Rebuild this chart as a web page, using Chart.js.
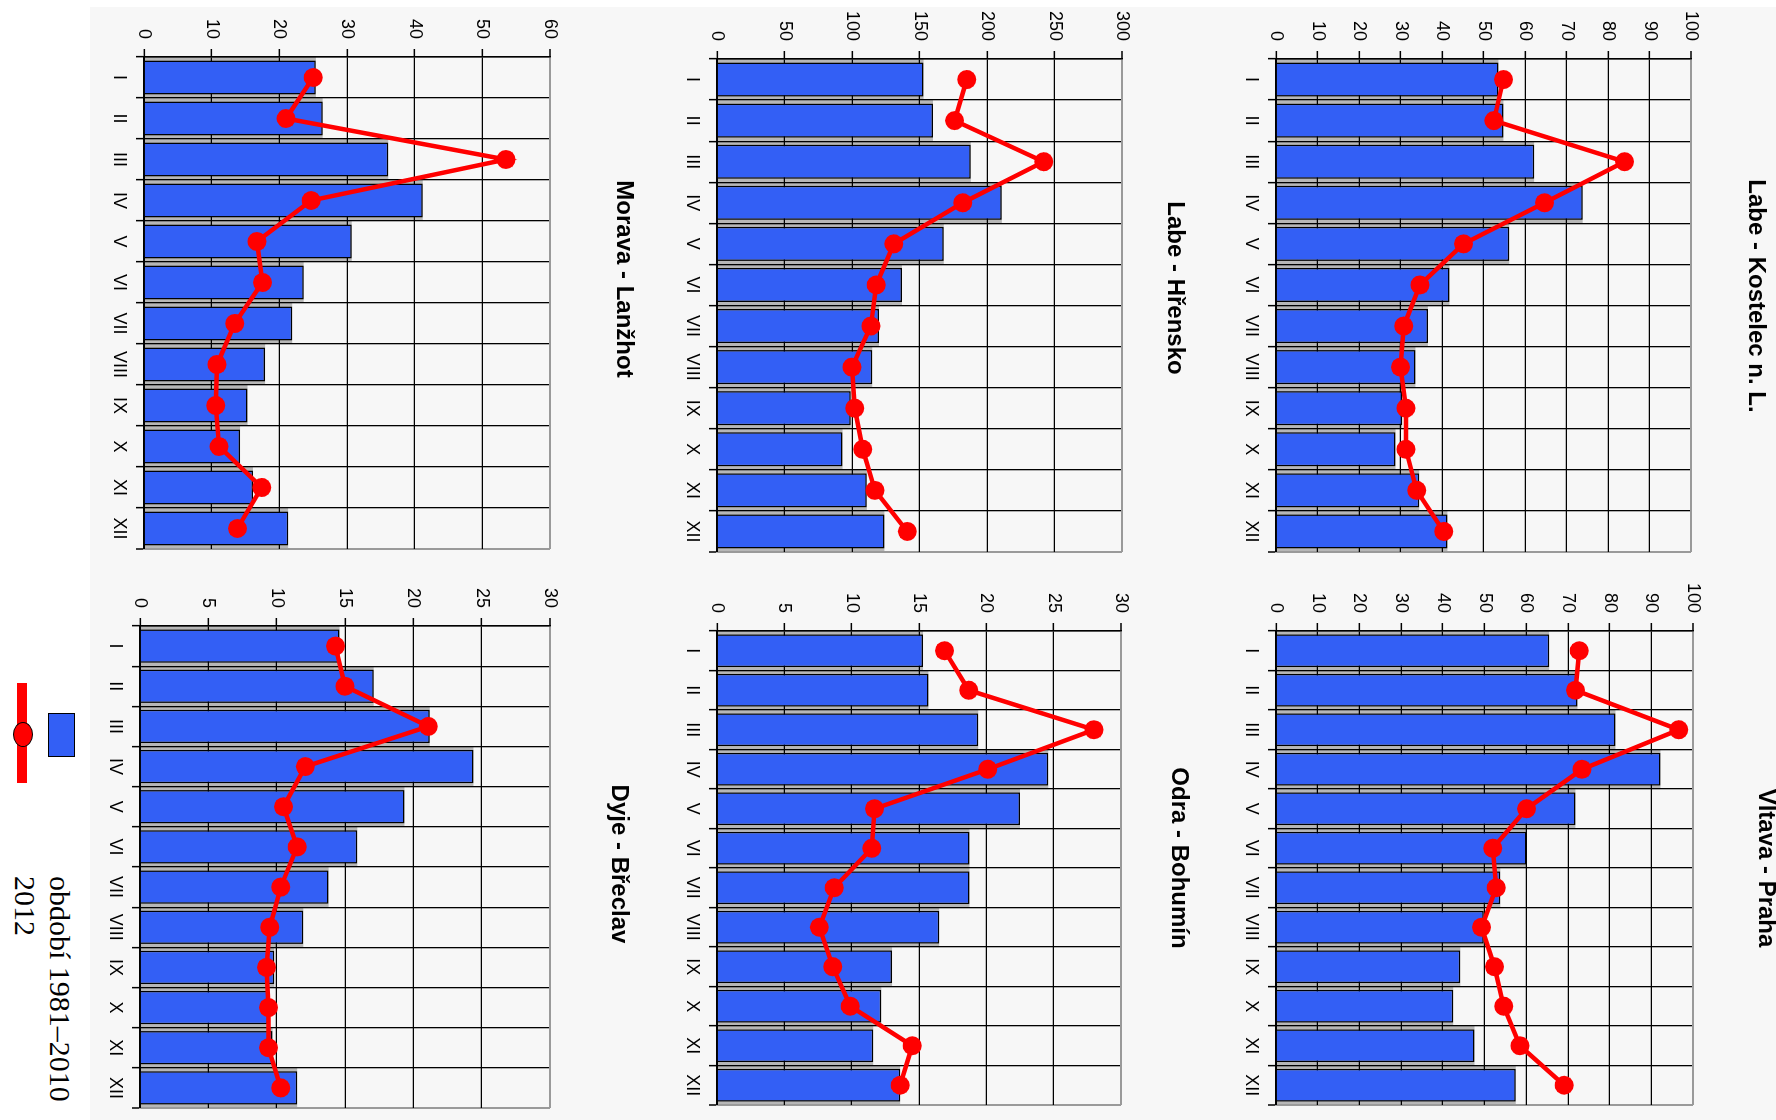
<!DOCTYPE html>
<html>
<head>
<meta charset="utf-8">
<script src="https://cdn.jsdelivr.net/npm/chart.js@4.4.1/dist/chart.umd.min.js"></script>
<style>
  html, body { margin: 0; padding: 0; background: #fff; overflow: hidden; }
  body { width: 1776px; height: 1120px; position: relative; }
  /* the chart is laid out upright and then turned a quarter clockwise */
  #page {
    position: absolute; left: 0; top: 0; width: 1120px; height: 1776px;
    transform-origin: 0 0; transform: translate(1776px, 0) rotate(90deg);
  }
  #paper { position: absolute; left: 7px; top: 0; width: 1113px; height: 1686px; background: #f7f7f7; }
  canvas { position: absolute; }
  .key-bar { position: absolute; left: 713px; top: 1701px; width: 42px; height: 25px; background: #335ff5; border: 1.5px solid #000; }
  .key-line { position: absolute; left: 683px; top: 1749px; width: 100px; height: 10px; background: #ff0000; }
  .key-dot { position: absolute; left: 722px; top: 1743px; width: 23px; height: 18px; border-radius: 50%; background: #ff0000; border: 1.5px solid #000; }
  .key-text { position: absolute; left: 876px; font: 30px "Liberation Serif", "Times New Roman", serif; line-height: 30px; color: #000; white-space: nowrap; }
</style>
</head>
<body>
<div id="page">
  <div id="paper"></div>
  <div class="key-bar"></div>
  <div class="key-line"></div>
  <div class="key-dot"></div>
  <div class="key-text" style="top:1701px">období 1981–2010</div>
  <div class="key-text" style="top:1736px">2012</div>
</div>
<script>
const months = ['I', 'II', 'III', 'IV', 'V', 'VI', 'VII', 'VIII', 'IX', 'X', 'XI', 'XII']

const labeKostelecNormal = [53.6, 54.8, 62.2, 73.9, 56.2, 41.8, 36.6, 33.6, 30.4, 28.8, 34.5, 41.3]
const labeKostelec2012 = [54.8, 52.5, 84.0, 64.7, 45.2, 34.7, 30.8, 30.0, 31.3, 31.3, 33.9, 40.4]

const vltavaPrahaNormal = [65.5, 72.3, 81.4, 92.2, 71.8, 60.1, 53.8, 49.8, 44.2, 42.5, 47.6, 57.5]
const vltavaPraha2012 = [72.7, 71.8, 96.6, 73.4, 60.1, 52.0, 52.8, 49.3, 52.4, 54.6, 58.5, 69.1]

const labeHrenskoNormal = [153, 160, 188, 211, 168, 137, 120, 115, 99, 93, 111, 124]
const labeHrensko2012 = [185, 176, 242, 182, 131, 118, 114, 100, 102, 108, 117, 141]

const odraBohuminNormal = [15.3, 15.7, 19.4, 24.6, 22.5, 18.75, 18.75, 16.5, 13.0, 12.2, 11.6, 13.6]
const odraBohumin2012 = [16.9, 18.7, 28.0, 20.1, 11.7, 11.5, 8.7, 7.6, 8.6, 9.9, 14.5, 13.6]

const moravaLanzhotNormal = [25.4, 26.4, 36.1, 41.2, 30.7, 23.6, 21.9, 17.9, 15.3, 14.2, 16.1, 21.3]
const moravaLanzhot2012 = [25.0, 21.0, 53.5, 24.7, 16.7, 17.5, 13.4, 10.8, 10.6, 11.1, 17.4, 13.8]

const dyjeBreclavNormal = [14.6, 17.1, 21.2, 24.4, 19.35, 15.9, 13.8, 11.95, 9.83, 9.36, 9.7, 11.5]
const dyjeBreclav2012 = [14.3, 15.0, 21.1, 12.1, 10.5, 11.5, 10.3, 9.5, 9.25, 9.4, 9.4, 10.3]

const legendLabels = ['období 1981–2010', '2012']

// plot box [left, top, right, bottom] and title centre, in upright page pixels
const panels = [
  { title: 'Labe - Kostelec n. L.', normal: labeKostelecNormal, recent: labeKostelec2012, max: 100, step: 10, plot: [59, 85, 552, 500], titleX: 296, titleY: 20 },
  { title: 'Vltava - Praha', normal: vltavaPrahaNormal, recent: vltavaPraha2012, max: 100, step: 10, plot: [631, 83, 1105, 500], titleX: 868, titleY: 10 },
  { title: 'Labe - Hřensko', normal: labeHrenskoNormal, recent: labeHrensko2012, max: 300, step: 50, plot: [59, 654, 552, 1059], titleX: 288, titleY: 601 },
  { title: 'Odra - Bohumín', normal: odraBohuminNormal, recent: odraBohumin2012, max: 30, step: 5, plot: [631, 655, 1105, 1059], titleX: 858, titleY: 597 },
  { title: 'Morava - Lanžhot', normal: moravaLanzhotNormal, recent: moravaLanzhot2012, max: 60, step: 10, plot: [57, 1226, 549, 1632], titleX: 279, titleY: 1152 },
  { title: 'Dyje - Břeclav', normal: dyjeBreclavNormal, recent: dyjeBreclav2012, max: 30, step: 5, plot: [626, 1226, 1108, 1636], titleX: 864, titleY: 1157 },
]

const BAR_BLUE = '#335ff5'
const LINE_RED = '#ff0000'
const FRAME_GREY = '#9a9a9a'
const TICK_FONT = { family: '"Liberation Sans", Arial, sans-serif', size: 18 }

// grey halo round each bar, painted before the grid so grid lines stay on top of it
const barHalo = {
  id: 'barHalo',
  beforeDraw(chart) {
    const meta = chart.getDatasetMeta(0)
    const ctx = chart.ctx
    ctx.save()
    ctx.fillStyle = '#b7b7b7'
    meta.data.forEach((bar) => {
      const { x, y, base, width } = bar.getProps(['x', 'y', 'base', 'width'], true)
      ctx.fillRect(x - width / 2 - 3.5, y, width + 7, base - y)
    })
    ctx.restore()
  },
}

// titles in the original are not centred on the plot, nudge each one sideways
const titleNudge = {
  id: 'titleNudge',
  afterLayout(chart, args, opts) {
    const tb = chart.titleBlock
    if (!tb || opts.centerX == null) return
    const shift = opts.centerX - (tb.left + tb.right) / 2
    tb.left += shift
    tb.right += shift
  },
}

const page = document.getElementById('page')

function makePanel(p) {
  const [l, t, r, b] = p.plot
  const yAxisW = 62
  const padL = 70
  const padR = 28
  const axisH = 40
  const titleLine = 24 * 1.2

  const left = l - padL
  const top = Math.round(p.titleY - titleLine / 2)
  const width = padL + (r - l) + padR
  const height = Math.round(b + axisH - top)

  const canvas = document.createElement('canvas')
  canvas.width = width
  canvas.height = height
  canvas.style.left = left + 'px'
  canvas.style.top = top + 'px'
  canvas.style.width = width + 'px'
  canvas.style.height = height + 'px'
  page.appendChild(canvas)

  return new Chart(canvas, {
    data: {
      labels: months,
      datasets: [
        {
          type: 'bar',
          label: legendLabels[0],
          data: p.normal,
          backgroundColor: BAR_BLUE,
          borderColor: '#000',
          borderWidth: 1.5,
          categoryPercentage: 1,
          barPercentage: 0.83,
          order: 2,
        },
        {
          type: 'line',
          label: legendLabels[1],
          data: p.recent,
          borderColor: LINE_RED,
          backgroundColor: LINE_RED,
          borderWidth: 4.5,
          pointRadius: 9.5,
          pointBorderWidth: 0,
          pointBackgroundColor: LINE_RED,
          tension: 0,
          clip: false,
          order: 1,
        },
      ],
    },
    options: {
      responsive: false,
      maintainAspectRatio: false,
      animation: false,
      events: [],
      layout: { padding: { left: padL - yAxisW, right: padR, top: 0, bottom: 0 } },
      plugins: {
        legend: { display: false },
        tooltip: { enabled: false },
        titleNudge: { centerX: p.titleX - left },
        title: {
          display: true,
          text: p.title,
          color: '#000',
          font: { family: '"Liberation Sans", Arial, sans-serif', size: 24, weight: 'bold', lineHeight: 1.2 },
          padding: { top: 0, bottom: t - top - titleLine },
        },
      },
      scales: {
        x: {
          type: 'category',
          offset: true,
          grid: {
            offset: true,
            color: (ctx) => (ctx.tick ? '#000' : FRAME_GREY),
            lineWidth: (ctx) => (ctx.tick ? 1.3 : 2),
            tickLength: 8,
            tickColor: '#000',
            tickWidth: 1.5,
          },
          border: { color: '#000', width: 2 },
          ticks: { color: '#000', font: TICK_FONT, padding: 6, maxRotation: 0, autoSkip: false },
          afterFit: (scale) => { scale.height = axisH },
        },
        y: {
          min: 0,
          max: p.max,
          grid: {
            color: (ctx) => (ctx.tick && ctx.tick.value === p.max ? FRAME_GREY : '#000'),
            lineWidth: (ctx) => (ctx.tick && ctx.tick.value === p.max ? 2 : 1.3),
            tickLength: 8,
            tickColor: '#000',
            tickWidth: 1.5,
          },
          border: { color: '#000', width: 1.5 },
          ticks: { stepSize: p.step, color: '#000', font: TICK_FONT, padding: 10 },
          afterFit: (scale) => { scale.width = yAxisW },
        },
      },
    },
    plugins: [barHalo, titleNudge],
  })
}

panels.forEach(makePanel)
</script>
</body>
</html>
